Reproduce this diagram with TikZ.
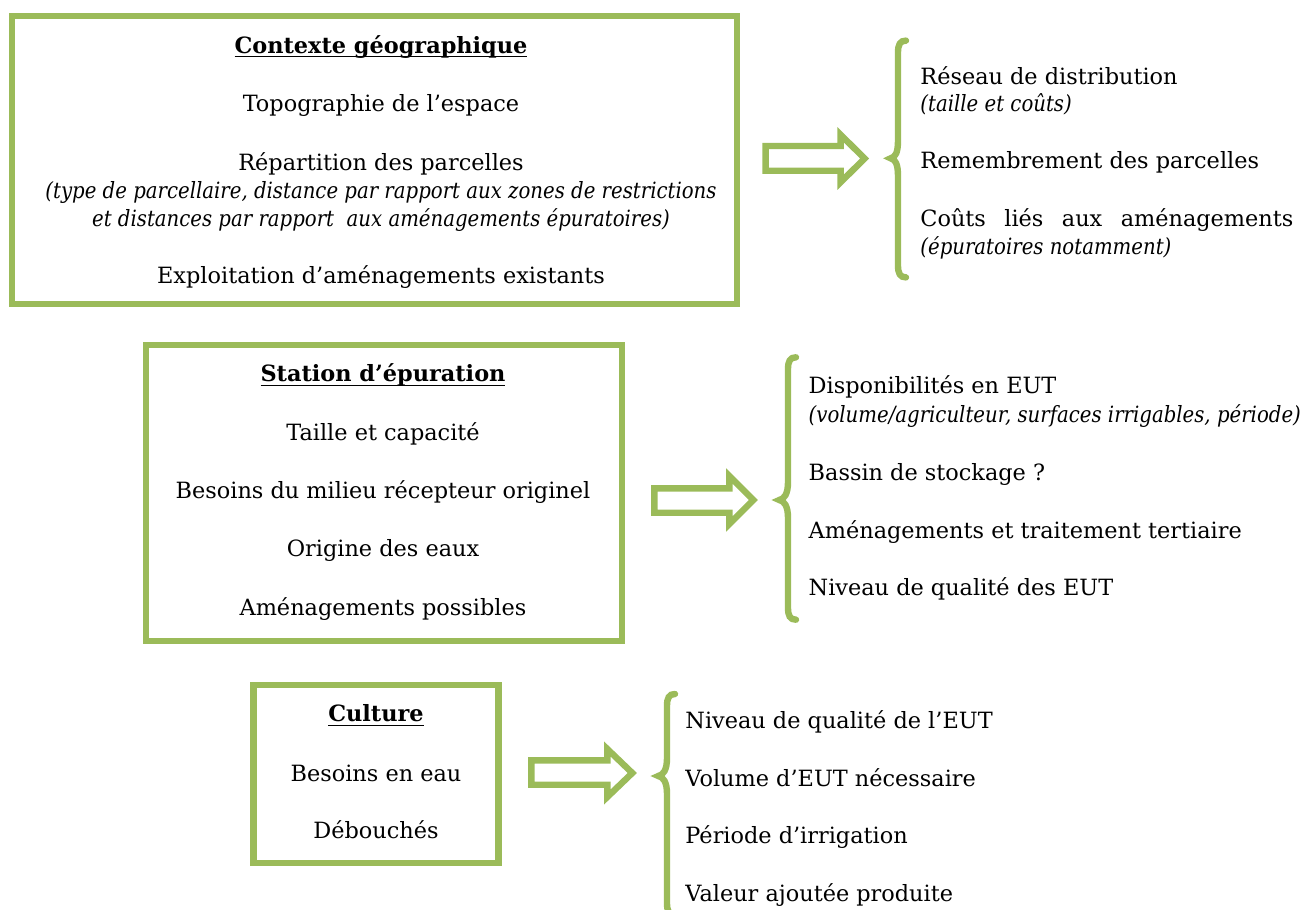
\documentclass[tikz,border=0pt]{standalone}
\usepackage{fontspec}
\usepackage{graphicx}
\setmainfont{DejaVu Serif}
\definecolor{gr}{HTML}{9BBB59}
\newcommand\fsz{\fontsize{11.2pt}{13pt}\selectfont}
\newcommand\itx[1]{\scalebox{0.88}[1]{\itshape #1}}
\newcommand\ulx[1]{\setbox0=\hbox{#1}\rlap{\rule[-2pt]{\wd0}{0.6pt}}\box0}
\newcommand\gbrace[5]{%
  \draw[brc] (#1+8,#2) .. controls (#1+2,#2) and (#1,#2+4) .. (#1,#2+12)
    -- (#1,#5-18) .. controls (#1,#5-6) and (#4+5,#5-1) .. (#4,#5)
    .. controls (#4+5,#5+1) and (#1,#5+6) .. (#1,#5+18)
    -- (#1,#3-12) .. controls (#1,#3-4) and (#1+2,#3) .. (#1+8,#3);}
\begin{document}
\begin{tikzpicture}[x=0.5pt,y=-0.5pt,
  gbox/.style={draw=gr, line width=3.2pt, inner sep=0pt, outer sep=0pt},
  brc/.style={draw=gr, line width=3.2pt, line cap=round},
  blk/.style={draw=gr, line width=3.2pt, line join=miter},
  ct/.style={inner sep=0pt, anchor=base, font=\fsz},
  lt/.style={inner sep=0pt, anchor=base west, font=\fsz}]
\useasboundingbox (0,0) rectangle (1303,910);
% boxes
\node[gbox, minimum width=362.35pt, minimum height=144pt] (b1) at (374.6,159.7) {};
\node[gbox, minimum width=238.15pt, minimum height=148pt] (b2) at (383.85,493) {};
\node[gbox, minimum width=122.4pt, minimum height=89pt] (b3) at (375.9,774) {};
% box 1 texts
\node[ct] (t1a) at (381,53.3) {\textbf{\ulx{Contexte géographique}}};
\node[ct] (t1b) at (381,111.7) {Topographie de l’espace};
\node[ct] (t1c) at (381,170) {Répartition des parcelles};
\node[ct] (t1d) at (381,198) {\itx{(type de parcellaire, distance par rapport aux zones de restrictions}};
\node[ct] (t1e) at (381,226.7) {\itx{et distances par rapport\ \ aux aménagements épuratoires)}};
\node[ct] (t1f) at (381,283) {Exploitation d’aménagements existants};
% box 2 texts
\node[ct] (t2a) at (383,381.7) {\textbf{\ulx{Station d’épuration}}};
\node[ct] (t2b) at (383,440) {Taille et capacité};
\node[ct] (t2c) at (383,498) {Besoins du milieu récepteur originel};
\node[ct] (t2d) at (383,556.7) {Origine des eaux};
\node[ct] (t2e) at (383,615) {Aménagements possibles};
% box 3 texts
\node[ct] (t3a) at (376,721.7) {\textbf{\ulx{Culture}}};
\node[ct] (t3b) at (376,781.7) {Besoins en eau};
\node[ct] (t3c) at (376,838) {Débouchés};
% arrows
\draw[blk] (765.6,146) -- (840.6,146) -- (840.6,134.7) -- (864.6,158.5) -- (840.6,182.3) -- (840.6,170.7) -- (765.6,170.7) -- cycle;
\draw[blk] (654.3,488.3) -- (729.3,488.3) -- (729.3,476) -- (753.3,500) -- (729.3,524) -- (729.3,512.7) -- (654.3,512.7) -- cycle;
\draw[blk] (531.3,760.3) -- (607.3,760.3) -- (607.3,749) -- (632.3,773) -- (607.3,797) -- (607.3,784.7) -- (531.3,784.7) -- cycle;
% braces
\gbrace{898}{40.6}{277.4}{890.6}{158.3}
\gbrace{788}{357.3}{619.7}{779.3}{500}
\gbrace{667}{694}{915}{658.3}{776}
% right column 1
\node[lt] (r1a) at (920,84) {Réseau de distribution};
\node[lt] (r1b) at (920,111.7) {\itx{(taille et coûts)}};
\node[lt] (r1c) at (920,168.3) {Remembrement des parcelles};
\node[lt] (r1d) at (920,226.7) {\makebox[186.5pt][s]{Coûts liés aux aménagements}};
\node[lt] (r1e) at (920,254) {\itx{(épuratoires notamment)}};
% right column 2
\node[lt] (r2a) at (808.3,393.3) {Disponibilités en EUT};
\node[lt] (r2b) at (808.3,422.5) {\itx{(volume/agriculteur, surfaces irrigables, période)}};
\node[lt] (r2c) at (808.3,480) {Bassin de stockage ?};
\node[lt] (r2d) at (808.3,538) {Aménagements et traitement tertiaire};
\node[lt] (r2e) at (808.3,595) {Niveau de qualité des EUT};
% right column 3
\node[lt] (r3a) at (685,728) {Niveau de qualité de l’EUT};
\node[lt] (r3b) at (685,786.7) {Volume d’EUT nécessaire};
\node[lt] (r3c) at (685,843) {Période d’irrigation};
\node[lt] (r3d) at (685,901.7) {Valeur ajoutée produite};
\end{tikzpicture}
\end{document}
